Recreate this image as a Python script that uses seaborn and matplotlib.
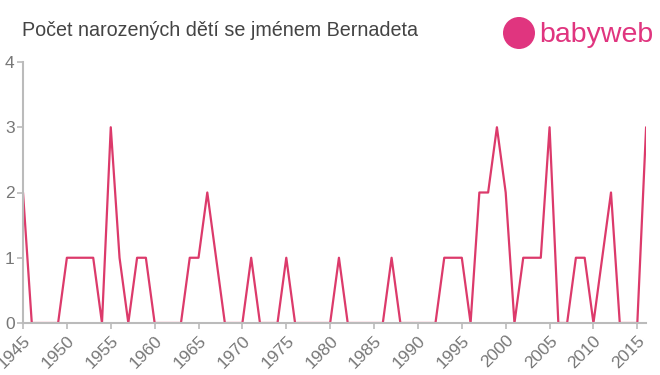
import numpy as np
import pandas as pd
import matplotlib
matplotlib.use("Agg")
import matplotlib.pyplot as plt
import seaborn as sns
from matplotlib.patches import Ellipse

# Data
years = list(range(1945, 2017))
counts = [
    2, 0, 0, 0, 0, 1, 1, 1, 1, 0,   # 1945-1954
    3, 1, 0, 1, 1, 0, 0, 0, 0, 1,   # 1955-1964
    1, 2, 1, 0, 0, 0, 1, 0, 0, 0,   # 1965-1974
    1, 0, 0, 0, 0, 0, 1, 0, 0, 0,   # 1975-1984
    0, 0, 1, 0, 0, 0, 0, 0, 1, 1,   # 1985-1994
    1, 0, 2, 2, 3, 2, 0, 1, 1, 1,   # 1995-2004
    3, 0, 0, 1, 1, 0, 1, 2, 0, 0,   # 2005-2014
    0, 3,                           # 2015-2016
]
title = "Počet narozených dětí se jménem Bernadeta"
x_ticks = list(range(1945, 2016, 5))
y_ticks = [0, 1, 2, 3, 4]

df = pd.DataFrame({"rok": years, "pocet": counts})

sns.set_style("ticks")
plt.rcParams['font.family'] = ['Liberation Sans', 'DejaVu Sans']

fig = plt.figure(figsize=(6.6, 3.75), dpi=100)
ax = fig.add_axes([23 / 660, 1 - 323 / 375, (646.4 - 23.3) / 660, (323 - 62) / 375])

sns.lineplot(data=df, x="rok", y="pocet", color="#dc3a6b", linewidth=1.6, ax=ax)

ax.set_xlim(1945, 2016)
ax.set_ylim(0, 4)
ax.set_xticks(x_ticks)
ax.set_xticklabels([str(t) for t in x_ticks], rotation=45, ha="right",
                   rotation_mode="anchor", fontsize=12.5, color="#777777")
ax.set_yticks(y_ticks)
ax.set_yticklabels([str(t) for t in y_ticks], fontsize=12.5, color="#777777")
ax.set_xlabel("")
ax.set_ylabel("")
ax.tick_params(axis="both", colors="#bbbbbb", length=4, width=1.2, labelcolor="#777777")
ax.tick_params(axis="x", pad=3)
ax.tick_params(axis="y", pad=2)
for side in ["top", "right"]:
    ax.spines[side].set_visible(False)
for side in ["left", "bottom"]:
    ax.spines[side].set_color("#bbbbbb")
    ax.spines[side].set_linewidth(1.5)

fig.text(22 / 660, 1 - 31 / 375, title, fontsize=14.2, color="#444444", va="center", ha="left")

# logo
fig.patches.append(Ellipse((519 / 660, 1 - 33 / 375), 32 / 660, 32 / 375,
                           transform=fig.transFigure, facecolor="#e0357f", edgecolor="none"))
fig.text(539 / 660, 1 - 35 / 375, "babyweb", fontsize=20.5, color="#e0357f",
         va="center", ha="left")

fig.savefig("out.png", dpi=100)
